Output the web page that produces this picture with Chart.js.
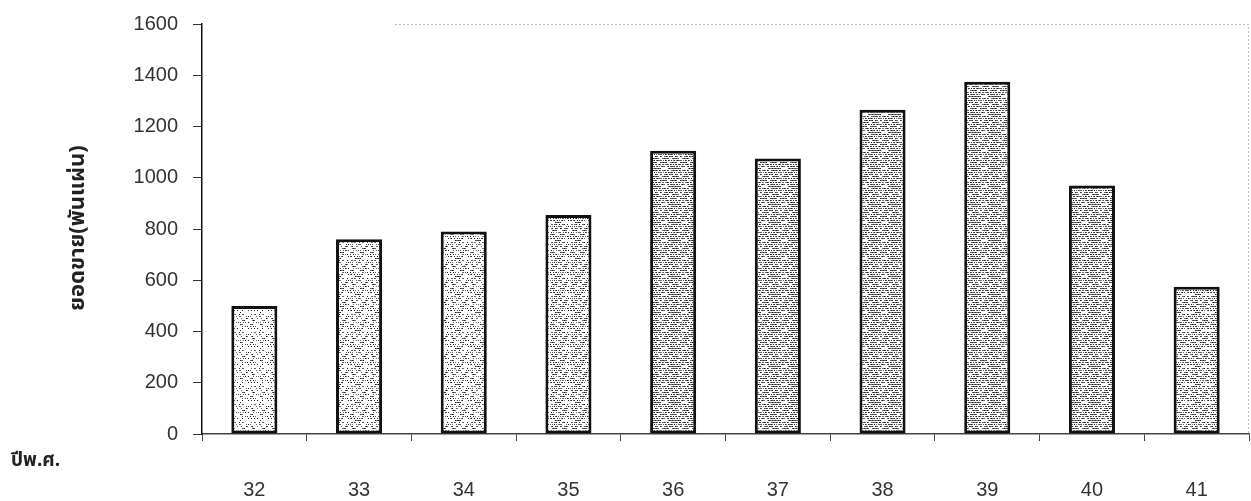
<!DOCTYPE html>
<html>
<head>
<meta charset="utf-8">
<script src="https://cdn.jsdelivr.net/npm/chart.js@4"></script>
<style>
  body { margin: 0; background: #fff; }
  #wrap { width: 1251px; height: 501px; }
</style>
</head>
<body>
<div id="wrap"><canvas id="salesChart" width="1251" height="501"></canvas></div>
<script>
// sales per year (thousand sheets)
var years = ['32', '33', '34', '35', '36', '37', '38', '39', '40', '41'];
var sales = [500, 760, 790, 855, 1105, 1075, 1265, 1375, 970, 575];
var yTicks = [0, 200, 400, 600, 800, 1000, 1200, 1400, 1600];
var yTitle = 'ยอดขาย(พันแผ่น)';
var xTitle = 'ปีพ.ศ.';
// how dense the stipple is in each bar (style only)
var shade = [3, 4, 4, 5, 7, 7, 7, 7, 7, 6];

var thaiFont = '"Noto Sans Thai", "Noto Sans", "DejaVu Sans", sans-serif';

function makePattern(density) {
    var c = document.createElement('canvas');
    c.width = 20; c.height = 18;
    var g = c.getContext('2d');
    g.fillStyle = '#fff';
    g.fillRect(0, 0, 20, 18);
    for (var y = 0; y < 18; y += 2) {
        for (var x = 0; x < 20; x++) {
            if ((x * 31 + y * 17 + (x * y) % 7) % 10 < density) {
                g.fillStyle = ((x + y) % 3 == 0) ? '#222' : '#666';
                g.fillRect(x, y, 1, 1);
            }
        }
    }
    return g.createPattern(c, 'repeat');
}

var extras = {
    id: 'extras',
    afterDraw: function(chart) {
        var a = chart.chartArea, ctx = chart.ctx;
        ctx.save();
        // faint dotted frame top / right
        ctx.strokeStyle = '#bbb';
        ctx.lineWidth = 1;
        ctx.setLineDash([2, 2]);
        ctx.beginPath();
        ctx.moveTo(395, a.top + 0.5);
        ctx.lineTo(a.right - 0.5, a.top + 0.5);
        ctx.lineTo(a.right - 0.5, a.bottom);
        ctx.stroke();
        ctx.setLineDash([]);
        // y title
        ctx.fillStyle = '#222';
        ctx.font = 'bold 22px ' + thaiFont;
        ctx.textAlign = 'center';
        ctx.textBaseline = 'middle';
        ctx.translate(80, 228);
        ctx.rotate(-Math.PI / 2);
        ctx.fillText(yTitle, 0, 0);
        ctx.restore();
        // x title
        ctx.save();
        ctx.fillStyle = '#222';
        ctx.font = 'bold 19px ' + thaiFont;
        ctx.textAlign = 'left';
        ctx.textBaseline = 'middle';
        ctx.fillText(xTitle, 11, 462);
        ctx.restore();
    }
};

var ctx = document.getElementById('salesChart').getContext('2d');
var myChart = new Chart(ctx, {
    type: 'bar',
    data: {
        labels: years,
        datasets: [{
            label: yTitle,
            data: sales,
            backgroundColor: shade.map(makePattern),
            borderColor: '#111',
            borderWidth: 3,
            borderSkipped: false,
            categoryPercentage: 1,
            barPercentage: 0.44
        }]
    },
    options: {
        responsive: false,
        animation: false,
        layout: { padding: { top: 24, right: 2, left: 0, bottom: 0 } },
        plugins: {
            legend: { display: false },
            tooltip: { enabled: false }
        },
        scales: {
            x: {
                grid: { drawOnChartArea: false, offset: true, tickLength: 7, color: '#444', lineWidth: 1 },
                border: { color: '#444', width: 1.5 },
                ticks: { color: '#333', font: { family: 'Liberation Sans, Arial', size: 20 }, padding: 37 },
                afterFit: function(s) { s.height = 67; }
            },
            y: {
                min: 0,
                max: 1600,
                afterBuildTicks: function(s) { s.ticks = yTicks.map(function(v) { return { value: v }; }); },
                grid: { drawOnChartArea: false, tickLength: 9, color: '#333', lineWidth: 1 },
                border: { color: '#111', width: 1.5 },
                ticks: {
                    color: '#333',
                    font: { family: 'Liberation Sans, Arial', size: 20 },
                    padding: 15,
                    callback: function(v) { return String(v); }
                },
                afterFit: function(s) { s.width = 202; s.paddingTop = 0; s.paddingBottom = 0; }
            }
        }
    },
    plugins: [extras]
});
</script>
</body>
</html>
